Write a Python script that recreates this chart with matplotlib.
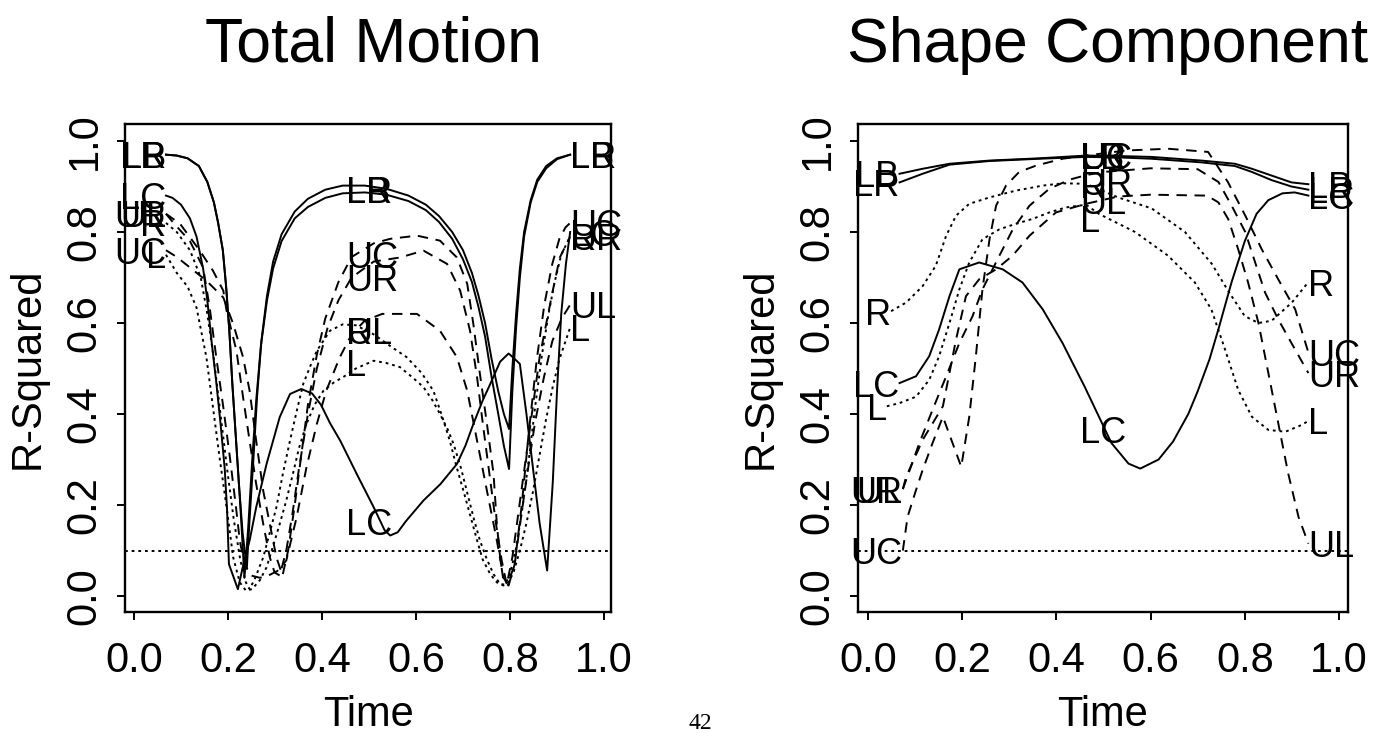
import matplotlib
matplotlib.use("Agg")
import matplotlib.pyplot as plt

plt.rcParams['font.family'] = ['Liberation Sans', 'DejaVu Sans']
plt.rcParams['lines.scale_dashes'] = False

# ---------------------------------------------------------------
# R-squared over normalised time for each landmark group.
# Each series is a list of (time, r_squared) knots.
# ---------------------------------------------------------------

# Total Motion
tm_LB = [(0.068, 0.97), (0.091, 0.968), (0.114, 0.962), (0.138, 0.945), (0.156, 0.91), (0.170, 0.865),
         (0.179, 0.82), (0.189, 0.76), (0.196, 0.68), (0.203, 0.58), (0.209, 0.47), (0.216, 0.36),
         (0.223, 0.25), (0.231, 0.14), (0.240, 0.06), (0.246, 0.17), (0.254, 0.30), (0.262, 0.44),
         (0.271, 0.56), (0.283, 0.66), (0.296, 0.735), (0.314, 0.795), (0.342, 0.845), (0.370, 0.873),
         (0.407, 0.893), (0.444, 0.902), (0.491, 0.902), (0.537, 0.895), (0.584, 0.88), (0.621, 0.86),
         (0.649, 0.835), (0.677, 0.80), (0.700, 0.76), (0.719, 0.71), (0.733, 0.66), (0.747, 0.60),
         (0.761, 0.52), (0.775, 0.45), (0.787, 0.40), (0.798, 0.367), (0.805, 0.50), (0.813, 0.62),
         (0.821, 0.72), (0.830, 0.80), (0.844, 0.87), (0.858, 0.915), (0.877, 0.945), (0.900, 0.962),
         (0.928, 0.97)]
tm_LR = [(0.068, 0.97), (0.091, 0.968), (0.114, 0.962), (0.138, 0.945), (0.156, 0.91), (0.170, 0.865),
         (0.179, 0.82), (0.189, 0.76), (0.196, 0.68), (0.203, 0.58), (0.209, 0.47), (0.216, 0.36),
         (0.223, 0.25), (0.229, 0.15), (0.235, 0.04), (0.243, 0.15), (0.251, 0.29), (0.260, 0.43),
         (0.270, 0.55), (0.283, 0.65), (0.296, 0.72), (0.314, 0.78), (0.342, 0.83), (0.370, 0.855),
         (0.407, 0.875), (0.444, 0.885), (0.491, 0.887), (0.537, 0.882), (0.584, 0.868), (0.621, 0.848),
         (0.649, 0.822), (0.677, 0.785), (0.700, 0.74), (0.719, 0.69), (0.733, 0.635), (0.747, 0.57),
         (0.761, 0.48), (0.775, 0.40), (0.787, 0.33), (0.798, 0.279), (0.805, 0.45), (0.813, 0.59),
         (0.821, 0.70), (0.830, 0.79), (0.844, 0.865), (0.858, 0.91), (0.877, 0.94), (0.900, 0.96),
         (0.928, 0.97)]
tm_LC = [(0.068, 0.88), (0.082, 0.875), (0.100, 0.86), (0.119, 0.83), (0.133, 0.79), (0.147, 0.72),
         (0.156, 0.65), (0.165, 0.56), (0.175, 0.47), (0.184, 0.38), (0.193, 0.28), (0.198, 0.19),
         (0.202, 0.07), (0.221, 0.015), (0.235, 0.08), (0.246, 0.122), (0.260, 0.195), (0.282, 0.29),
         (0.310, 0.393), (0.332, 0.444), (0.356, 0.455), (0.379, 0.445), (0.398, 0.42), (0.417, 0.38),
         (0.439, 0.341), (0.474, 0.268), (0.510, 0.195), (0.533, 0.145), (0.545, 0.133), (0.561, 0.14),
         (0.579, 0.165), (0.616, 0.21), (0.652, 0.246), (0.687, 0.29), (0.705, 0.33), (0.722, 0.378),
         (0.742, 0.43), (0.758, 0.466), (0.779, 0.515), (0.797, 0.533), (0.809, 0.522), (0.821, 0.51),
         (0.835, 0.40), (0.849, 0.28), (0.863, 0.16), (0.879, 0.056), (0.891, 0.25), (0.900, 0.45),
         (0.909, 0.62), (0.919, 0.73), (0.928, 0.80)]
tm_UC = [(0.068, 0.76), (0.091, 0.745), (0.119, 0.722), (0.154, 0.693), (0.190, 0.656), (0.211, 0.598),
         (0.232, 0.525), (0.246, 0.451), (0.260, 0.341), (0.275, 0.231), (0.289, 0.158), (0.303, 0.085),
         (0.316, 0.045), (0.328, 0.10), (0.342, 0.20), (0.356, 0.31), (0.370, 0.42), (0.389, 0.53),
         (0.407, 0.61), (0.435, 0.69), (0.463, 0.745), (0.510, 0.775), (0.545, 0.785), (0.602, 0.792),
         (0.651, 0.781), (0.687, 0.744), (0.709, 0.686), (0.722, 0.598), (0.736, 0.488), (0.751, 0.378),
         (0.765, 0.268), (0.772, 0.158), (0.779, 0.085), (0.786, 0.034), (0.797, 0.023), (0.810, 0.07),
         (0.825, 0.20), (0.840, 0.36), (0.857, 0.52), (0.873, 0.64), (0.890, 0.73), (0.905, 0.785),
         (0.918, 0.81), (0.928, 0.82)]
tm_UR = [(0.068, 0.84), (0.098, 0.818), (0.140, 0.759), (0.168, 0.715), (0.190, 0.671), (0.197, 0.627),
         (0.218, 0.539), (0.232, 0.437), (0.246, 0.341), (0.260, 0.246), (0.275, 0.158), (0.289, 0.085),
         (0.299, 0.052), (0.310, 0.045), (0.324, 0.10), (0.337, 0.18), (0.351, 0.28), (0.370, 0.40),
         (0.389, 0.50), (0.412, 0.59), (0.435, 0.65), (0.463, 0.70), (0.510, 0.735), (0.566, 0.744),
         (0.616, 0.759), (0.666, 0.730), (0.694, 0.671), (0.715, 0.583), (0.730, 0.48), (0.742, 0.38),
         (0.756, 0.27), (0.770, 0.16), (0.782, 0.08), (0.793, 0.025), (0.805, 0.085), (0.834, 0.305),
         (0.863, 0.525), (0.891, 0.671), (0.906, 0.744), (0.928, 0.79)]
tm_UL = [(0.068, 0.84), (0.084, 0.82), (0.119, 0.78), (0.147, 0.722), (0.161, 0.634), (0.175, 0.525),
         (0.190, 0.415), (0.204, 0.305), (0.217, 0.195), (0.225, 0.122), (0.235, 0.07), (0.249, 0.045),
         (0.268, 0.04), (0.286, 0.045), (0.305, 0.055), (0.324, 0.078), (0.346, 0.173), (0.367, 0.283),
         (0.389, 0.378), (0.409, 0.451), (0.438, 0.525), (0.463, 0.575), (0.491, 0.605), (0.528, 0.62),
         (0.566, 0.62), (0.602, 0.62), (0.651, 0.583), (0.687, 0.525), (0.709, 0.451), (0.730, 0.341),
         (0.751, 0.231), (0.772, 0.122), (0.786, 0.041), (0.795, 0.025), (0.810, 0.07), (0.823, 0.17),
         (0.837, 0.27), (0.853, 0.38), (0.872, 0.48), (0.890, 0.56), (0.910, 0.61), (0.928, 0.64)]
tm_R = [(0.068, 0.82), (0.091, 0.80), (0.119, 0.76), (0.142, 0.70), (0.156, 0.62), (0.170, 0.52),
        (0.184, 0.40), (0.198, 0.28), (0.212, 0.17), (0.226, 0.08), (0.238, 0.03), (0.246, 0.015),
        (0.258, 0.04), (0.275, 0.085), (0.289, 0.14), (0.303, 0.195), (0.317, 0.27), (0.332, 0.342),
        (0.347, 0.41), (0.360, 0.466), (0.375, 0.505), (0.389, 0.539), (0.417, 0.583), (0.444, 0.597),
        (0.472, 0.595), (0.510, 0.575), (0.547, 0.548), (0.580, 0.525), (0.612, 0.49), (0.637, 0.451),
        (0.654, 0.40), (0.672, 0.341), (0.686, 0.285), (0.701, 0.231), (0.716, 0.175), (0.730, 0.122),
        (0.742, 0.08), (0.758, 0.048), (0.772, 0.03), (0.786, 0.023), (0.798, 0.04), (0.812, 0.10),
        (0.826, 0.19), (0.840, 0.30), (0.854, 0.42), (0.868, 0.53), (0.882, 0.62), (0.895, 0.69),
        (0.909, 0.75), (0.928, 0.79)]
tm_L = [(0.068, 0.75), (0.091, 0.71), (0.114, 0.68), (0.133, 0.634), (0.154, 0.525), (0.168, 0.415),
        (0.182, 0.305), (0.197, 0.195), (0.211, 0.085), (0.225, 0.03), (0.238, 0.012), (0.251, 0.015),
        (0.268, 0.035), (0.282, 0.063), (0.296, 0.11), (0.310, 0.158), (0.324, 0.21), (0.338, 0.268),
        (0.351, 0.325), (0.367, 0.378), (0.384, 0.42), (0.403, 0.451), (0.426, 0.47), (0.445, 0.481),
        (0.472, 0.50), (0.510, 0.517), (0.537, 0.512), (0.566, 0.503), (0.593, 0.48), (0.616, 0.459),
        (0.635, 0.43), (0.651, 0.40), (0.668, 0.365), (0.680, 0.334), (0.696, 0.28), (0.708, 0.231),
        (0.723, 0.17), (0.736, 0.122), (0.751, 0.08), (0.765, 0.048), (0.779, 0.026), (0.793, 0.025),
        (0.807, 0.05), (0.821, 0.10), (0.835, 0.16), (0.849, 0.23), (0.863, 0.31), (0.877, 0.39),
        (0.891, 0.46), (0.905, 0.52), (0.928, 0.59)]

# Shape Component
sc_LB = [(0.067, 0.928), (0.116, 0.939), (0.173, 0.95), (0.258, 0.957), (0.364, 0.962), (0.463, 0.968),
         (0.530, 0.967), (0.602, 0.965), (0.708, 0.957), (0.779, 0.95), (0.815, 0.939), (0.857, 0.924),
         (0.899, 0.909), (0.935, 0.905)]
sc_LR = [(0.067, 0.909), (0.116, 0.928), (0.173, 0.948), (0.258, 0.956), (0.364, 0.961), (0.463, 0.965),
         (0.530, 0.964), (0.602, 0.961), (0.708, 0.953), (0.779, 0.945), (0.815, 0.932), (0.857, 0.914),
         (0.899, 0.90), (0.935, 0.893)]
sc_LC = [(0.067, 0.468), (0.102, 0.483), (0.130, 0.527), (0.151, 0.586), (0.173, 0.659), (0.194, 0.718),
         (0.236, 0.733), (0.286, 0.718), (0.328, 0.689), (0.371, 0.63), (0.413, 0.556), (0.460, 0.46),
         (0.517, 0.336), (0.553, 0.291), (0.578, 0.28), (0.617, 0.30), (0.648, 0.34), (0.680, 0.40),
         (0.700, 0.45), (0.725, 0.52), (0.745, 0.59), (0.772, 0.69), (0.800, 0.78), (0.825, 0.84),
         (0.850, 0.87), (0.880, 0.885), (0.906, 0.887), (0.935, 0.88)]
sc_UC = [(0.074, 0.10), (0.084, 0.174), (0.102, 0.233), (0.116, 0.277), (0.137, 0.336), (0.159, 0.394),
         (0.198, 0.284), (0.215, 0.394), (0.229, 0.527), (0.243, 0.674), (0.258, 0.784), (0.272, 0.858),
         (0.293, 0.902), (0.321, 0.932), (0.357, 0.946), (0.413, 0.961), (0.463, 0.968), (0.546, 0.979),
         (0.637, 0.983), (0.722, 0.976), (0.764, 0.91), (0.801, 0.836), (0.836, 0.762), (0.871, 0.696),
         (0.907, 0.63), (0.935, 0.535)]
sc_UR = [(0.074, 0.235), (0.081, 0.255), (0.109, 0.336), (0.137, 0.409), (0.166, 0.483), (0.194, 0.556),
         (0.222, 0.615), (0.243, 0.674), (0.279, 0.748), (0.307, 0.805), (0.343, 0.858), (0.385, 0.895),
         (0.428, 0.915), (0.463, 0.925), (0.500, 0.932), (0.600, 0.94), (0.700, 0.938), (0.744, 0.91),
         (0.772, 0.858), (0.801, 0.80), (0.822, 0.733), (0.843, 0.667), (0.871, 0.608), (0.899, 0.556),
         (0.935, 0.49)]
sc_UL = [(0.074, 0.235), (0.081, 0.262), (0.116, 0.343), (0.159, 0.417), (0.187, 0.564), (0.208, 0.659),
         (0.236, 0.696), (0.272, 0.718), (0.307, 0.748), (0.343, 0.792), (0.399, 0.843), (0.463, 0.862),
         (0.531, 0.878), (0.600, 0.882), (0.720, 0.88), (0.744, 0.865), (0.765, 0.828), (0.786, 0.762),
         (0.807, 0.689), (0.829, 0.60), (0.850, 0.49), (0.871, 0.38), (0.892, 0.27), (0.914, 0.174),
         (0.935, 0.115)]
sc_R = [(0.049, 0.626), (0.081, 0.645), (0.116, 0.681), (0.144, 0.726), (0.166, 0.792), (0.187, 0.836),
        (0.215, 0.862), (0.258, 0.876), (0.314, 0.891), (0.371, 0.902), (0.413, 0.907), (0.463, 0.906),
        (0.531, 0.876), (0.602, 0.852), (0.673, 0.80), (0.730, 0.73), (0.765, 0.67), (0.800, 0.615),
        (0.829, 0.60), (0.857, 0.605), (0.900, 0.645), (0.935, 0.69)]
sc_L = [(0.040, 0.417), (0.067, 0.424), (0.102, 0.438), (0.130, 0.475), (0.151, 0.527), (0.173, 0.60),
        (0.194, 0.674), (0.215, 0.733), (0.243, 0.784), (0.279, 0.806), (0.314, 0.818), (0.350, 0.829),
        (0.385, 0.843), (0.420, 0.854), (0.463, 0.86), (0.490, 0.84), (0.567, 0.80), (0.637, 0.748),
        (0.694, 0.689), (0.729, 0.63), (0.758, 0.542), (0.786, 0.453), (0.815, 0.394), (0.850, 0.365),
        (0.886, 0.361), (0.921, 0.376), (0.935, 0.385)]

group_names = ['LB', 'LR', 'LC', 'UC', 'UR', 'UL', 'R', 'L']
group_style = {'LB': 'solid', 'LR': 'solid', 'LC': 'solid',
               'UC': 'dashed', 'UR': 'dashed', 'UL': 'dashed',
               'R': 'dotted', 'L': 'dotted'}

total_motion = {'LB': tm_LB, 'LR': tm_LR, 'LC': tm_LC, 'UC': tm_UC,
                'UR': tm_UR, 'UL': tm_UL, 'R': tm_R, 'L': tm_L}
shape_component = {'LB': sc_LB, 'LR': sc_LR, 'LC': sc_LC, 'UC': sc_UC,
                   'UR': sc_UR, 'UL': sc_UL, 'R': sc_R, 'L': sc_L}

# labels written across the middle of each panel
tm_mid_names = ['LB', 'LR', 'UC', 'UR', 'UL', 'R', 'L', 'LC']
tm_mid_r2 = [0.893, 0.893, 0.75, 0.70, 0.583, 0.583, 0.514, 0.164]
sc_mid_names = ['LB', 'LR', 'UC', 'UR', 'R', 'UL', 'L', 'LC']
sc_mid_r2 = [0.968, 0.968, 0.968, 0.912, 0.905, 0.87, 0.83, 0.365]
tm_mid_time = 0.452
sc_mid_time = 0.45

reference_r2 = 0.1
tick_values = [0.0, 0.2, 0.4, 0.6, 0.8, 1.0]
tick_labels = ['0.0', '0.2', '0.4', '0.6', '0.8', '1.0']

# ---------------------------------------------------------------
LINE = {'solid': dict(linestyle='-'),
        'dashed': dict(linestyle=(0, (7.5, 5.5))),
        'dotted': dict(linestyle=(0, (2.0, 2.8)))}

W, H = 1399, 733
fig = plt.figure(figsize=(W / 100, H / 100), dpi=100)
fig.patch.set_facecolor('white')

LABEL_SIZE = 26
AXIS_SIZE = 30
TITLE_SIZE = 45


def frac(x0, y0, x1, y1):
    return [x0 / W, 1 - y1 / H, (x1 - x0) / W, (y1 - y0) / H]


def panel(rect, xlim, series, mid_names, mid_r2, mid_time, title, title_x, center_x, ylabel_x):
    ax = fig.add_axes(rect)
    for name in group_names:
        t = [p[0] for p in series[name]]
        r = [p[1] for p in series[name]]
        ax.plot(t, r, color='black', lw=1.4, solid_joinstyle='round',
                **LINE[group_style[name]])
        ax.text(t[0], r[0], name, ha='right', va='center_baseline',
                fontsize=LABEL_SIZE, color='black')
        ax.text(t[-1], r[-1], name, ha='left', va='center_baseline',
                fontsize=LABEL_SIZE, color='black')
    for name, r in zip(mid_names, mid_r2):
        ax.text(mid_time, r, name, ha='left', va='center_baseline',
                fontsize=LABEL_SIZE, color='black')
    ax.axhline(reference_r2, color='black', lw=1.4, linestyle=(0, (2.0, 2.8)))

    ax.set_xlim(*xlim)
    ax.set_ylim((596 - 612) / 455, (596 - 124) / 455)
    ax.set_xticks(tick_values)
    ax.set_xticklabels(tick_labels)
    ax.set_yticks(tick_values)
    ax.set_yticklabels(tick_labels, rotation=90, va='center')
    ax.tick_params(axis='both', direction='out', length=5.8, width=1.4,
                   labelsize=AXIS_SIZE, top=False, right=False)
    ax.tick_params(axis='x', pad=15)
    ax.tick_params(axis='y', pad=9)
    for s in ax.spines.values():
        s.set_linewidth(1.7)

    fig.text(title_x / W, 1 - 62 / H, title, ha='center', va='baseline', fontsize=TITLE_SIZE)
    fig.text(center_x / W, 1 - 726 / H, 'Time', ha='center', va='baseline', fontsize=AXIS_SIZE)
    fig.text(ylabel_x / W, 1 - 368 / H, 'R-Squared', rotation=90, ha='center',
             va='center', fontsize=AXIS_SIZE)
    return ax


panel(frac(125, 124, 611, 612), ((125 - 134) / 470, (611 - 134) / 470),
      total_motion, tm_mid_names, tm_mid_r2, tm_mid_time, 'Total Motion', 373, 368, 28)
panel(frac(858, 124, 1348, 612), ((858 - 868) / 471, (1348 - 868) / 471),
      shape_component, sc_mid_names, sc_mid_r2, sc_mid_time, 'Shape Component', 1108, 1103, 761)

fig.text(700 / W, 1 - 729 / H, '42', ha='center', va='baseline', fontsize=17,
         family=['Liberation Serif', 'DejaVu Serif'])

fig.savefig('out.png', dpi=100, facecolor='white')
